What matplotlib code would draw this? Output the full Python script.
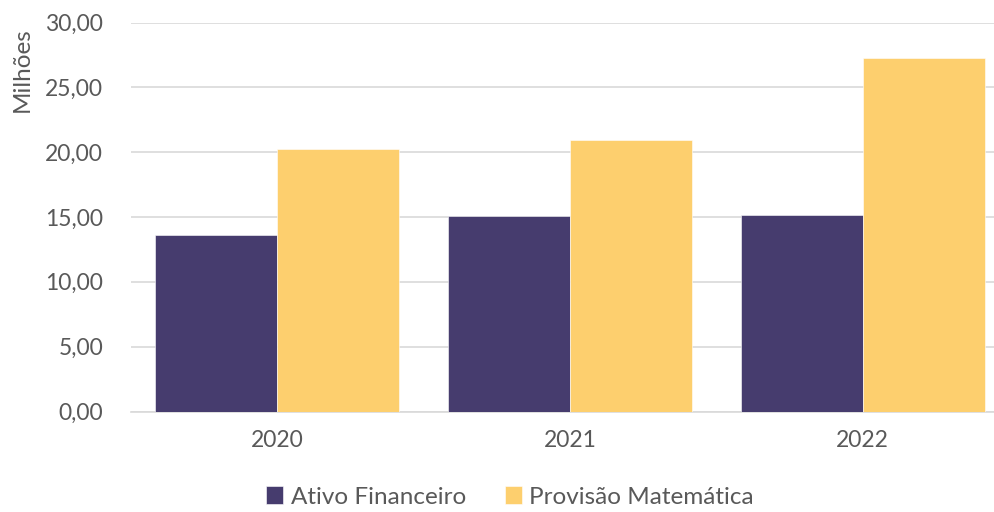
import matplotlib
matplotlib.use("Agg")
import matplotlib.pyplot as plt
import numpy as np

categories = ["2020", "2021", "2022"]
ativo = [13.6, 15.08, 15.18]
provisao = [20.25, 20.95, 27.26]
series_names = ["Ativo Financeiro", "Provisão Matemática"]
yticks = [0, 5, 10, 15, 20, 25, 30]
ytick_labels = ["0,00", "5,00", "10,00", "15,00", "20,00", "25,00", "30,00"]

c_ativo = "#463C6E"
c_prov = "#FDCF6E"
txt = "#595959"

plt.rcParams['font.family'] = ['Lato', 'DejaVu Sans']

fig = plt.figure(figsize=(9.95, 5.12), dpi=100)
ax = fig.add_axes([131/995, (512-411.5)/512, (1009-131)/995, (411.5-22.5)/512])

x = np.arange(len(categories))
w = 0.417
ax.bar(x - w/2, ativo, w, color=c_ativo, edgecolor="#ffffff", linewidth=0.4, label=series_names[0], zorder=3)
ax.bar(x + w/2, provisao, w, color=c_prov, edgecolor="#ffffff", linewidth=0.4, label=series_names[1], zorder=3)

ax.set_xlim(-0.5, 2.5)
ax.set_ylim(0, 30)
ax.set_yticks(yticks)
ax.set_yticklabels(ytick_labels)
ax.set_xticks(x)
ax.set_xticklabels(categories)
ax.yaxis.grid(True, color="#d9d9d9", linewidth=1.2, zorder=0)
ax.set_axisbelow(True)
for s in ["top", "right", "left"]:
    ax.spines[s].set_visible(False)
ax.spines["bottom"].set_color("#d9d9d9")
ax.spines["bottom"].set_linewidth(1.2)
ax.tick_params(axis="both", length=0, labelsize=16.5, colors=txt)
ax.tick_params(axis="y", pad=20)
ax.tick_params(axis="x", pad=13)

fig.text(22/995, 1 - 70/512, "Milhões", rotation=90, ha="center", va="center", fontsize=17.5, color=txt)

leg = fig.legend(loc="center", bbox_to_anchor=(510/995, 1 - 497/512), ncol=2, frameon=False,
                 fontsize=17.5, handlelength=0.7, handleheight=0.7, columnspacing=1.6, handletextpad=0.3)
for t in leg.get_texts():
    t.set_color(txt)

fig.savefig("out.png", dpi=100)
